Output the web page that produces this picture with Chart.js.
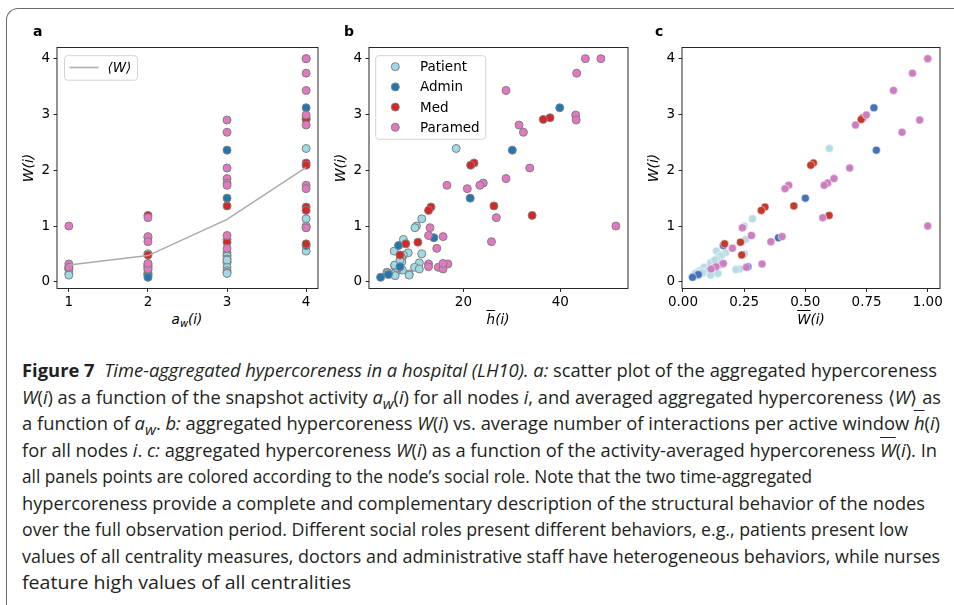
<!DOCTYPE html>
<html>
<head>
<meta charset="utf-8">
<script src="https://cdn.jsdelivr.net/npm/chart.js@4.4.0/dist/chart.umd.min.js"></script>
<style>
  html, body { margin: 0; padding: 0; background: #fff; }
  body { width: 954px; height: 605px; position: relative; overflow: hidden; font-family: "DejaVu Sans", sans-serif; }
  #frame { position: absolute; left: 6px; top: 8px; width: 980px; height: 640px;
           border-top: 1.5px solid #6b6b6b; border-left: 1.5px solid #6b6b6b; border-top-left-radius: 12px; }
  canvas { position: absolute; top: 0; }
  .plab { position: absolute; top: 23px; line-height: 16px; font: bold 14px "DejaVu Sans"; color: #000; }
  .xlab { position: absolute; top: 311px; line-height: 18px; font: italic 13.5px "DejaVu Sans"; color: #000;
          transform: translateX(-50%); white-space: nowrap; }
  .xlab .sub { font-size: 10px; position: relative; top: 3px; }
  .ov { text-decoration: overline; }
  #caption { position: absolute; left: 22px; top: 357px;
             font-family: "Open Sans", sans-serif; font-size: 18px; color: #231f20; }
  #caption div { height: 26.5px; line-height: 26.5px; white-space: nowrap; transform-origin: 0 0; }
</style>
</head>
<body>
<div id="frame"></div>

<canvas id="chartA" width="330" height="310" style="left:0px"></canvas>
<canvas id="chartB" width="328" height="310" style="left:312px"></canvas>
<canvas id="chartC" width="327" height="310" style="left:625px"></canvas>

<div class="plab" style="left:33px">a</div>
<div class="plab" style="left:344px">b</div>
<div class="plab" style="left:655px">c</div>

<div class="xlab" style="left:187px">a<span class="sub">w</span>(i)</div>
<div class="xlab" style="left:498px"><span class="ov">h</span>(i)</div>
<div class="xlab" style="left:811px"><span class="ov">W</span>(i)</div>

<div id="caption">
  <div data-w="915"><b>Figure 7</b>&nbsp; <i>Time-aggregated hypercoreness in a hospital (LH10). a:</i> scatter plot of the aggregated hypercoreness</div>
  <div data-w="919"><i>W</i>(<i>i</i>) as a function of the snapshot activity <i>a<sub>w</sub></i>(<i>i</i>) for all nodes <i>i</i>, and averaged aggregated hypercoreness ⟨<i>W</i>⟩ as</div>
  <div data-w="918">a function of <i>a<sub>w</sub></i>. <i>b:</i> aggregated hypercoreness <i>W</i>(<i>i</i>) vs. average number of interactions per active window <i class="ov">h</i>(<i>i</i>)</div>
  <div data-w="915">for all nodes <i>i</i>. <i>c:</i> aggregated hypercoreness <i>W</i>(<i>i</i>) as a function of the activity-averaged hypercoreness <i class="ov">W</i>(<i>i</i>). In</div>
  <div data-w="790">all panels points are colored according to the node’s social role. Note that the two time-aggregated</div>
  <div data-w="903">hypercoreness provide a complete and complementary description of the structural behavior of the nodes</div>
  <div data-w="886">over the full observation period. Different social roles present different behaviors, e.g., patients present low</div>
  <div data-w="918">values of all centrality measures, doctors and administrative staff have heterogeneous behaviors, while nurses</div>
  <div data-w="329">feature high values of all centralities</div>
</div>

<script>
// social roles, in legend order
const roles = ["Patient", "Admin", "Med", "Paramed"];

// per node values, grouped by role
// a = snapshot activity a_w(i), h = mean interactions per active window, wbar = activity-averaged hypercoreness, W = aggregated hypercoreness
const aPatient = [4, 4, 4, 4, 4, 3, 3, 2, 3, 3, 3, 3, 3, 2, 3, 1, 1, 2, 3, 3, 1, 3, 2, 1, 2, 2, 2, 3, 2];
const hPatient = [18.5, 11.4, 10.3, 10.0, 5.7, 7.6, 8.6, 11.4, 7.6, 7.1, 7.3, 7.3, 10.9, 5.8, 9.9, 10.9, 7.2, 7.4, 6.2, 4.2, 4.5, 5.9, 8.8, 8.8, 5.9, 6.4, 5.8, 6.9, 4.4];
const wbarPatient = [0.598, 0.284, 0.250, 0.243, 0.137, 0.256, 0.174, 0.251, 0.160, 0.152, 0.137, 0.120, 0.113, 0.141, 0.086, 0.232, 0.216, 0.103, 0.069, 0.057, 0.143, 0.050, 0.070, 0.113, 0.061, 0.125, 0.150, 0.130, 0.080];
const wPatient = [2.39, 1.13, 1.00, 0.97, 0.55, 0.76, 0.52, 0.50, 0.48, 0.46, 0.41, 0.36, 0.34, 0.28, 0.26, 0.23, 0.22, 0.21, 0.20, 0.17, 0.15, 0.15, 0.14, 0.12, 0.11, 0.25, 0.30, 0.39, 0.16];

const aAdmin = [4, 3, 3, 2, 4, 1, 2, 2];
const hAdmin = [39.9, 30.1, 21.4, 13.9, 6.6, 6.9, 4.5, 2.9];
const wbarAdmin = [0.78, 0.79, 0.50, 0.39, 0.165, 0.265, 0.063, 0.039];
const wAdmin = [3.12, 2.36, 1.50, 0.79, 0.65, 0.27, 0.13, 0.08];

const aMed = [4, 4, 4, 4, 3, 4, 4, 2, 3, 4, 2];
const hMed = [37.9, 36.5, 22.2, 21.5, 26.3, 13.3, 12.8, 34.2, 10.6, 8.1, 6.9];
const wbarMed = [0.735, 0.728, 0.533, 0.522, 0.453, 0.335, 0.320, 0.597, 0.235, 0.170, 0.240];
const wMed = [2.94, 2.91, 2.13, 2.09, 1.36, 1.34, 1.28, 1.19, 0.71, 0.68, 0.48];

const aParamed = [4, 4, 4, 4, 4, 3, 4, 3, 3, 3, 3, 3, 4, 4, 2, 1, 4, 3, 2, 2, 3, 1, 1, 2, 2, 2, 2];
const hParamed = [48.4, 45.2, 43.4, 28.8, 43.2, 43.3, 31.5, 32.4, 33.7, 28.8, 24.1, 23.4, 16.6, 20.8, 26.8, 51.5, 13.1, 12.8, 15.8, 25.8, 14.5, 16.8, 14.8, 12.8, 12.8, 15.8, 15.8];
const wbarParamed = [1.0, 1.0, 0.9375, 0.86, 0.749, 0.967, 0.705, 0.895, 0.681, 0.617, 0.591, 0.577, 0.432, 0.417, 0.571, 1.0, 0.243, 0.280, 0.405, 0.359, 0.202, 0.323, 0.259, 0.160, 0.135, 0.115, 0.165];
const wParamed = [4.0, 4.0, 3.74, 3.43, 2.99, 2.90, 2.81, 2.68, 2.04, 1.85, 1.77, 1.73, 1.73, 1.67, 1.15, 1.0, 0.97, 0.83, 0.81, 0.72, 0.60, 0.32, 0.26, 0.32, 0.27, 0.23, 0.33];

// averaged W as a function of a_w (panel a line)
const avgA = [1, 2, 3, 4];
const avgW = [0.30, 0.47, 1.12, 2.05];
const avgLabel = "⟨W⟩";

// tick values
const yTicks = [0, 1, 2, 3, 4];
const xTicksA = [1, 2, 3, 4];
const xTicksB = [20, 40];
const xTicksC = [0, 0.25, 0.5, 0.75, 1.0];

const aByRole = [aPatient, aAdmin, aMed, aParamed];
const hByRole = [hPatient, hAdmin, hMed, hParamed];
const wbarByRole = [wbarPatient, wbarAdmin, wbarMed, wbarParamed];
const wByRole = [wPatient, wAdmin, wMed, wParamed];

const colAB = ["#9edae5", "#1f77b4", "#d62728", "#e377c2"];
const colC = ["#b8dbe4", "#4672b6", "#c23a2b", "#c97fc0"];
const FONT = "DejaVu Sans";

// full box around the plot area, like matplotlib spines
const spines = {
  id: "spines",
  afterDatasetsDraw(chart) {
    const { ctx, chartArea: c } = chart;
    ctx.save();
    ctx.strokeStyle = "#111";
    ctx.lineWidth = 0.9;
    ctx.strokeRect(c.left, c.top, c.right - c.left, c.bottom - c.top);
    ctx.restore();
  }
};

// legend drawn inside the axes with a rounded frame
const boxLegend = {
  id: "boxLegend",
  afterDraw(chart, args, o) {
    if (!o.items) return;
    const { ctx, chartArea: c } = chart;
    const x0 = c.left + o.dx, y0 = c.top + o.dy;
    ctx.save();
    ctx.beginPath();
    ctx.roundRect(x0, y0, o.w, o.h, 3);
    ctx.fillStyle = "rgba(255,255,255,0.85)";
    ctx.fill();
    ctx.strokeStyle = "#d4d4d4";
    ctx.lineWidth = 1;
    ctx.stroke();
    ctx.textBaseline = "middle";
    o.items.forEach((it, k) => {
      const y = y0 + o.first + k * o.step;
      if (it.line) {
        ctx.beginPath();
        ctx.moveTo(x0 + 5, y);
        ctx.lineTo(x0 + 34, y);
        ctx.strokeStyle = it.color;
        ctx.lineWidth = 1.5;
        ctx.stroke();
      } else {
        ctx.beginPath();
        ctx.arc(x0 + o.mark, y, 4, 0, Math.PI * 2);
        ctx.fillStyle = it.color;
        ctx.fill();
        ctx.strokeStyle = "#7f7f7f";
        ctx.lineWidth = 1;
        ctx.stroke();
      }
      ctx.font = (it.italic ? "italic " : "") + "13.5px " + FONT;
      ctx.fillStyle = "#000";
      ctx.fillText(it.label, x0 + o.text, y + 1);
    });
    ctx.restore();
  }
};

function makeOptions(xMin, xMax, xTicks, fmt, legend) {
  const tickFont = { family: FONT, size: 13.5 };
  return {
    responsive: false,
    animation: false,
    events: [],
    layout: { padding: { left: 0, right: 12, top: 47.5, bottom: 0 } },
    plugins: { legend: { display: false }, tooltip: { enabled: false }, boxLegend: legend },
    scales: {
      x: {
        type: "linear", min: xMin, max: xMax,
        afterBuildTicks: s => { s.ticks = xTicks.map(v => ({ value: v })); },
        afterFit: s => { s.height = 21.5; s.paddingLeft = 0; s.paddingRight = 0; },
        grid: { drawOnChartArea: false, drawTicks: true, tickLength: 3.5, color: "#111", lineWidth: 0.9 },
        border: { display: false },
        ticks: { color: "#000", font: tickFont, padding: 2, maxRotation: 0, autoSkip: false, callback: v => fmt(v) }
      },
      y: {
        type: "linear", min: -0.12, max: 4.2,
        afterBuildTicks: s => { s.ticks = yTicks.map(v => ({ value: v })); },
        afterFit: s => { s.width = 57; s.paddingTop = 0; s.paddingBottom = 0; },
        grid: { drawOnChartArea: false, drawTicks: true, tickLength: 3.5, color: "#111", lineWidth: 0.9 },
        border: { display: false },
        ticks: { color: "#000", font: tickFont, padding: 3.5, autoSkip: false, callback: v => String(v) },
        title: { display: true, text: "W(i)", color: "#000", font: { family: FONT, size: 14, style: "italic" }, padding: { top: 21, bottom: 0 } }
      }
    }
  };
}

function roleSets(xByRole, colors, edge, edgeW) {
  return roles.map((r, i) => ({
    type: "scatter",
    label: r,
    data: xByRole[i].map((x, k) => ({ x: x, y: wByRole[i][k] })),
    backgroundColor: colors[i],
    borderColor: edge,
    borderWidth: edgeW,
    pointRadius: 4,
    order: roles.length - i
  }));
}

// panel a
const setsA = roleSets(aByRole, colAB, "#7f7f7f", 1);
setsA.push({
  type: "line",
  label: avgLabel,
  data: avgA.map((a, k) => ({ x: a, y: avgW[k] })),
  borderColor: "#aaaaaa",
  borderWidth: 1.5,
  pointRadius: 0,
  order: 0
});
new Chart("chartA", {
  type: "scatter",
  data: { datasets: setsA },
  options: makeOptions(0.85, 4.15, xTicksA, v => String(v), {
    dx: 7.5, dy: 8.2, w: 73, h: 24.5, first: 11.8, step: 20, mark: 19.6, text: 43,
    items: [{ label: avgLabel, color: "#aaaaaa", line: true, italic: true }]
  }),
  plugins: [spines, boxLegend]
});

// panel b
new Chart("chartB", {
  type: "scatter",
  data: { datasets: roleSets(hByRole, colAB, "#7f7f7f", 1) },
  options: makeOptions(0.5, 54.0, xTicksB, v => String(v), {
    dx: 6.7, dy: 8.2, w: 110, h: 83.6, first: 11, step: 20.2, mark: 19.6, text: 44.3,
    items: roles.map((r, i) => ({ label: r, color: colAB[i] }))
  }),
  plugins: [spines, boxLegend]
});

// panel c
new Chart("chartC", {
  type: "scatter",
  data: { datasets: roleSets(wbarByRole, colC, "rgba(255,255,255,0.8)", 0.6) },
  options: makeOptions(-0.004, 1.05, xTicksC, v => v.toFixed(2), {}),
  plugins: [spines]
});

// squeeze each caption line to the width it has in the reference
function fitCaption() {
  document.querySelectorAll("#caption div").forEach(line => {
    line.style.transform = "none";
    const range = document.createRange();
    range.selectNodeContents(line);
    const natural = range.getBoundingClientRect().width;
    line.style.transform = "scaleX(" + (Number(line.dataset.w) / natural) + ")";
  });
}
fitCaption();
document.fonts.ready.then(fitCaption);
</script>
</body>
</html>
